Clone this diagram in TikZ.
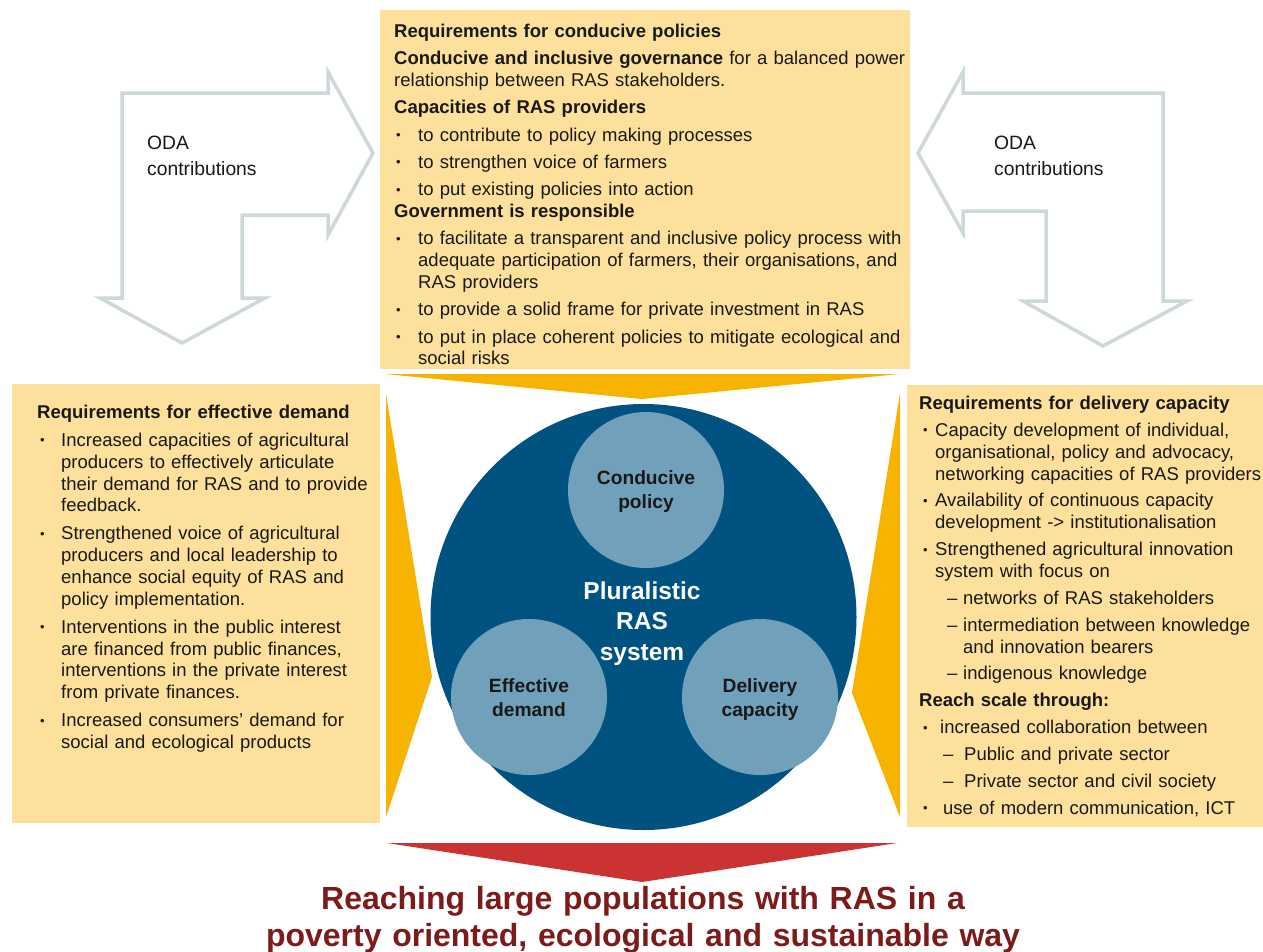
\documentclass[tikz,border=0pt]{standalone}
\usepackage{fontspec}
\setmainfont{Liberation Sans}
\definecolor{boxyellow}{RGB}{253,224,155}
\definecolor{gold}{RGB}{246,180,0}
\definecolor{navy}{RGB}{0,83,129}
\definecolor{lightblue}{RGB}{112,160,186}
\definecolor{redtri}{RGB}{203,50,50}
\definecolor{titlered}{RGB}{125,27,27}
\definecolor{arrowgray}{RGB}{206,215,217}
\definecolor{txt}{RGB}{25,25,25}
\newcommand\bulsym{\raisebox{1.6pt}{\fontsize{13}{13}\selectfont\textbullet}}
\newcommand\bitem[3]{\par\hangindent=#2\hangafter=1\noindent\hspace*{#1}\makebox[\dimexpr#2-#1\relax][l]{\bulsym}#3}
\newcommand\ditem[3]{\par\hangindent=#2\hangafter=1\noindent\hspace*{#1}\makebox[\dimexpr#2-#1\relax][l]{–}#3}
\newcommand\hd[1]{\par\noindent\textbf{#1}}
\tikzset{
  boxbg/.style={fill=boxyellow, draw=none, inner sep=0, anchor=north west},
  boxtext/.style={anchor=base west, inner sep=0, text width=#1, align=left, text=txt,
                  font=\fontsize{18.5}{21.8}\selectfont},
  wedge/.style={fill=gold, draw=none},
  odaarrow/.style={draw=arrowgray, line width=3.5pt, line join=miter, fill=white},
  odatext/.style={anchor=base west, inner sep=0, text width=150, align=left, text=txt,
                  font=\fontsize{19.3}{26.4}\selectfont},
  bigcirc/.style={circle, fill=navy, inner sep=0, minimum size=426},
  smallcirc/.style={circle, fill=lightblue, inner sep=0, minimum size=156},
  circtext/.style={anchor=base, inner sep=0, text width=150, align=center, text=txt,
                   font=\bfseries\fontsize{19.2}{24}\selectfont}
}
\begin{document}
\begin{tikzpicture}[x=1pt, y=-1pt]
\useasboundingbox (0,0) rectangle (1263,951);
\fill[white] (0,0) rectangle (1263,951);

% ODA arrows
\draw[odaarrow] (122,93) -- (328,93) -- (328,72) -- (373,153) -- (328,235) -- (328,215)
  -- (242,215) -- (242,298) -- (265,298) -- (182,343) -- (100,298) -- (122,298) -- cycle;
\draw[odaarrow] (1163,93) -- (963,93) -- (963,72) -- (918,153) -- (963,233) -- (963,211)
  -- (1046,211) -- (1046,301) -- (1023,301) -- (1103,346) -- (1187,301) -- (1163,301) -- cycle;
\node[odatext] (odaL) at (147,149.3) {ODA\\contributions};
\node[odatext] (odaR) at (994,149.3) {ODA\\contributions};

% boxes
\node[boxbg, minimum width=530, minimum height=359] (topbox) at (380,10) {};
\node[boxbg, minimum width=368, minimum height=439] (leftbox) at (12,384) {};
\node[boxbg, minimum width=356, minimum height=442] (rightbox) at (907,385) {};

% wedges
\fill[wedge] (385,374) -- (900,374) -- (642,399) -- cycle;
\fill[wedge] (386,394) -- (432,677) -- (386,817) -- cycle;
\fill[wedge] (900,393) -- (852,693) -- (900,817) -- cycle;
\fill[redtri] (387,843) -- (897,843) -- (642,882) -- cycle;

% circles
\node[bigcirc] (sys) at (643.5,617) {};
\node[smallcirc] (pol) at (646,490) {};
\node[smallcirc] (dem) at (529,697) {};
\node[smallcirc] (del) at (760,697) {};
\node[circtext] (poltxt) at (646,484.5) {Conducive\\policy};
\node[circtext] (demtxt) at (529,692) {Effective\\demand};
\node[circtext] (deltxt) at (760,692) {Delivery\\capacity};
\node[anchor=base, inner sep=0, text width=200, align=center, text=white,
      font=\bfseries\fontsize{24.5}{30.5}\selectfont] (systxt) at (642,599) {Pluralistic\\RAS\\system};

% top text
\node[boxtext=530] (toptext) at (394,37.5) {%
\noindent\textbf{Requirements for conducive policies}\setlength\parskip{5.5pt}%
\par\noindent\textbf{Conducive and inclusive governance} for a balanced power\newline relationship between RAS stakeholders.
\hd{Capacities of RAS providers}
\bitem{2pt}{24pt}{to contribute to policy making processes}
\bitem{2pt}{24pt}{to strengthen voice of farmers}
\bitem{2pt}{24pt}{to put existing policies into action}
\par\vspace{-5.5pt}%
\hd{Government is responsible}
\bitem{2pt}{24pt}{to facilitate a transparent and inclusive policy process with\newline adequate participation of farmers, their organisations, and\newline RAS providers}
\bitem{2pt}{24pt}{to provide a solid frame for private investment in RAS}
\bitem{2pt}{24pt}{to put in place coherent policies to mitigate ecological and\newline social risks}\par};

% left text
\node[boxtext=340] (lefttext) at (37,418.5) {%
\noindent\textbf{Requirements for effective demand}\setlength\parskip{6.2pt}%
\bitem{3pt}{24pt}{Increased capacities of agricultural\newline producers to effectively articulate\newline their demand for RAS and to provide\newline feedback.}
\bitem{3pt}{24pt}{Strengthened voice of agricultural\newline producers and local leadership to\newline enhance social equity of RAS and\newline policy implementation.}
\bitem{3pt}{24pt}{Interventions in the public interest\newline are financed from public finances,\newline interventions in the private interest\newline from private finances.}
\bitem{3pt}{24pt}{Increased consumers’ demand for\newline social and ecological products}\par};

% right text
\node[boxtext=344] (righttext) at (919,409.5) {%
\noindent\textbf{Requirements for delivery capacity}\setlength\parskip{5.1pt}%
\bitem{4pt}{16pt}{Capacity development of individual,\newline organisational, policy and advocacy,\newline networking capacities of RAS providers}
\bitem{4pt}{16pt}{Availability of continuous capacity\newline development -> institutionalisation}
\bitem{4pt}{16pt}{Strengthened agricultural innovation\newline system with focus on}
\ditem{28pt}{44pt}{networks of RAS stakeholders}
\ditem{28pt}{44pt}{intermediation between knowledge\newline and innovation bearers}
\ditem{28pt}{44pt}{indigenous knowledge}
\hd{Reach scale through:}
\bitem{4pt}{21pt}{increased collaboration between}
\ditem{24pt}{45pt}{Public and private sector}
\ditem{24pt}{45pt}{Private sector and civil society}
\bitem{4pt}{24pt}{use of modern communication, ICT}\par};

% goal text
\node[anchor=base, inner sep=0, text width=1000, align=center, text=titlered,
      font=\bfseries\fontsize{32}{37.5}\selectfont] (goal) at (643,909)
  {Reaching large populations with RAS in a\\poverty oriented, ecological and sustainable way};
\end{tikzpicture}
\end{document}
